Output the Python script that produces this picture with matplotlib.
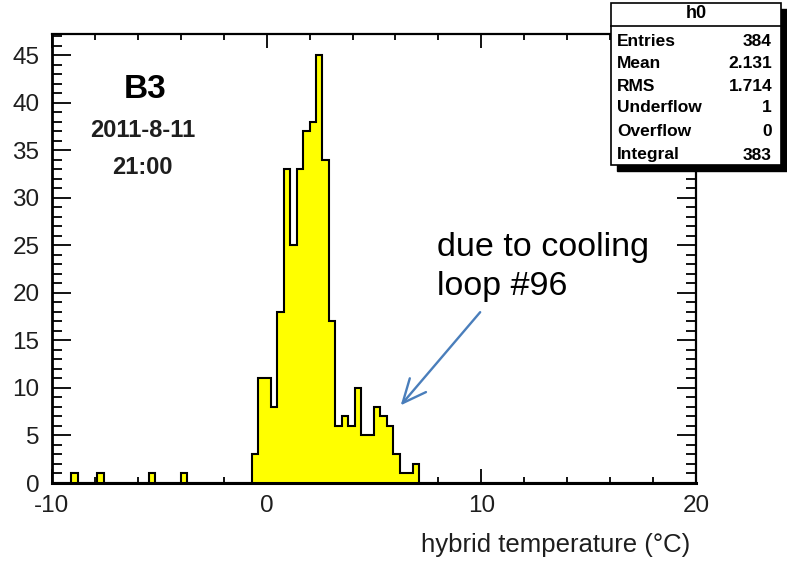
import numpy as np
import matplotlib
matplotlib.use("Agg")
import matplotlib.pyplot as plt
from matplotlib.patches import Rectangle
from matplotlib.lines import Line2D
from matplotlib.ticker import MultipleLocator

plt.rcParams['font.family'] = ['Liberation Sans', 'DejaVu Sans']
plt.rcParams['axes.unicode_minus'] = False

# histogram h0: 100 bins from -10 to 20 (width 0.3)
x_min, x_max, n_bins = -10.0, 20.0, 100
# non-empty bins: lower edge -> count
low_edges = [-9.1, -7.9, -5.5, -4.0,
             -0.7, -0.4, -0.1, 0.2, 0.5, 0.8, 1.1, 1.4, 1.7, 2.0, 2.3, 2.6, 2.9,
             3.2, 3.5, 3.8, 4.1, 4.4, 4.7, 5.0, 5.3, 5.6, 5.9, 6.2, 6.5, 6.8]
counts = [1, 1, 1, 1,
          3, 11, 11, 8, 18, 33, 25, 33, 37, 38, 45, 34, 17,
          6, 7, 6, 10, 5, 5, 8, 7, 6, 3, 1, 1, 2]

stat_names = ["Entries", "Mean", "RMS", "Underflow", "Overflow", "Integral"]
stat_values = ["384", "2.131", "1.714", "1", "0", "383"]

x_ticks = [-10, 0, 10, 20]
x_tick_labels = ["-10", "0", "10", "20"]

edges = np.linspace(x_min, x_max, n_bins + 1)
values = np.zeros(n_bins)
for lo, c in zip(low_edges, counts):
    values[int(round((lo - x_min) / 0.3))] = c

W, H = 787, 564
fig = plt.figure(figsize=(W / 100, H / 100), dpi=100)
ax = fig.add_axes([52 / W, 1 - 483 / H, (696 - 52) / W, (483 - 34) / H])

ax.stairs(values, edges, fill=True, color="#ffff00", zorder=2)
ax.stairs(values, edges, color="black", lw=1.5, baseline=0, zorder=3)

ax.set_xlim(x_min, x_max)
ax.set_ylim(0, values.max() * 1.05)

ax.xaxis.set_major_locator(MultipleLocator(10))
ax.xaxis.set_minor_locator(MultipleLocator(2))
ax.yaxis.set_major_locator(MultipleLocator(5))
ax.yaxis.set_minor_locator(MultipleLocator(1))
ax.set_xticks(x_ticks, x_tick_labels)

ax.tick_params(axis="x", which="major", direction="in", length=10, width=1.3,
               top=True, pad=9, labelsize=17.5, labelcolor="#1e1e1e")
ax.tick_params(axis="x", which="minor", direction="in", length=4.5, width=1.3, top=True)
ax.tick_params(axis="y", which="major", direction="in", length=14, width=1.3,
               right=True, pad=9, labelsize=17.5, labelcolor="#1e1e1e")
ax.tick_params(axis="y", which="minor", direction="in", length=7, width=1.3, right=True)

for side, sp in ax.spines.items():
    sp.set_linewidth(1.6)
ax.spines["bottom"].set_linewidth(2.2)
ax.spines["left"].set_linewidth(2.0)

fig.text(690 / W, 1 - 545 / H, "hybrid temperature (\u00b0C)", ha="right", va="center",
         fontsize=18.5, color="#1e1e1e")

# run label
fig.text(145 / W, 1 - 90 / H, "B3", ha="center", va="center", fontsize=24, fontweight="bold")
fig.text(143 / W, 1 - 130 / H, "2011-8-11", ha="center", va="center", fontsize=17,
         fontweight="bold", color="#1e1e1e")
fig.text(142 / W, 1 - 168 / H, "21:00", ha="center", va="center", fontsize=17,
         fontweight="bold", color="#1e1e1e")

# annotation
fig.text(437 / W, 1 - 267 / H, "due to cooling\nloop #96", ha="left", va="center",
         fontsize=24.5, linespacing=1.37)
ax.annotate("", xy=(6.16, 7.95), xytext=(10.03, 18.2),
            arrowprops=dict(arrowstyle="->,head_length=1.0,head_width=0.45",
                            color="#4a7ebb", lw=1.7, mutation_scale=17))

# stats box with shadow
bx0, bx1, by0, by1 = 611, 781, 3, 165
fig.patches.append(Rectangle(((bx0 + 6) / W, 1 - (by1 + 6) / H), (bx1 - bx0) / W,
                             (by1 - by0) / H, transform=fig.transFigure,
                             facecolor="black", edgecolor="black", zorder=10))
fig.patches.append(Rectangle((bx0 / W, 1 - by1 / H), (bx1 - bx0) / W, (by1 - by0) / H,
                             transform=fig.transFigure, facecolor="white",
                             edgecolor="black", lw=1.2, zorder=11))
fig.lines.append(Line2D([bx0 / W, bx1 / W], [1 - 26 / H, 1 - 26 / H],
                        transform=fig.transFigure, color="black", lw=1.2, zorder=12))
fig.text((bx0 + bx1) / 2 / W, 1 - 13 / H, "h0", ha="center", va="center",
         fontsize=13, fontweight="bold", zorder=13)
row_y = [41, 63.5, 86, 108, 131.5, 155]
for name, val, yy in zip(stat_names, stat_values, row_y):
    fig.text(617 / W, 1 - yy / H, name, ha="left", va="center", fontsize=12.5,
             fontweight="bold", zorder=13)
    fig.text(772 / W, 1 - yy / H, val, ha="right", va="center", fontsize=12.5,
             fontweight="bold", zorder=13)

fig.savefig("out.png", dpi=100)
